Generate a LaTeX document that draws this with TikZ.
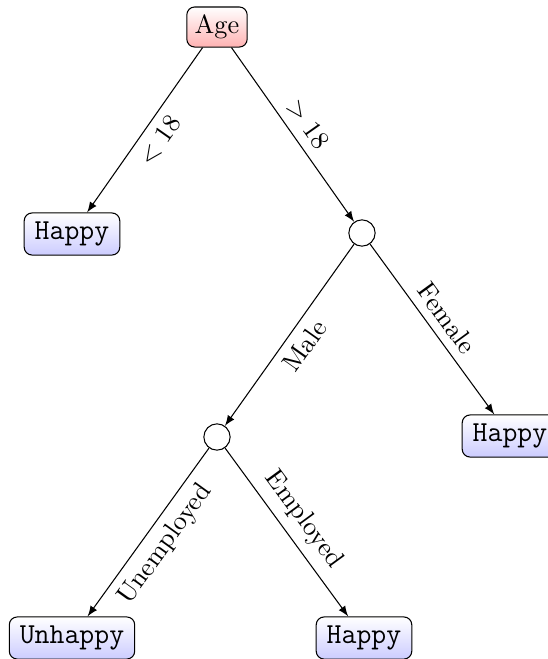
\documentclass[tikz,border=0pt]{standalone}
\usepackage{xcolor}
\usepackage{amsmath, amssymb}
\usepackage{tikz}
\usetikzlibrary{shapes, arrows, positioning, calc}

\begin{document}
\begin{tikzpicture}[
        x=0.38pt, y=-0.38pt,
        box/.style={rectangle, rounded corners=3pt, draw=black, inner sep=3pt},
        root/.style={box, top color=white, bottom color=red!30},
        leaf/.style={box, top color=white, bottom color=blue!20, font=\ttfamily\fontsize{11}{13}\selectfont, inner xsep=4pt, minimum height=16pt},
        split/.style={circle, draw=black, fill=white, minimum size=10pt},
        edge/.style={-latex},
        lleft/.style={below, sloped, midway},
        lright/.style={above, sloped, midway}
    ]
    \useasboundingbox (0,0) rectangle (548,659);

    % Root question
    \node[root] (Age) at (217,27) {Age};
    \node[leaf] (Minor) at (72,234) {Happy};
    \node[split] (Adult) at (362,233) {};

    \draw[edge] (Age) -- node[lleft] {$<18$} (Minor);
    \draw[edge] (Age) -- node[lright] {$>18$} (Adult);

    % Adults split on gender
    \node[split] (Male) at (217,437) {};
    \node[leaf] (Female) at (510,436) {Happy};

    \draw[edge] (Adult) -- node[lleft] {Male} (Male);
    \draw[edge] (Adult) -- node[lright] {Female} (Female);

    % Males split on job
    \node[leaf] (Jobless) at (72,638) {Unhappy};
    \node[leaf] (Working) at (364,638) {Happy};

    \draw[edge] (Male) -- node[lleft] {Unemployed} (Jobless);
    \draw[edge] (Male) -- node[lright] {Employed} (Working);

\end{tikzpicture}
\end{document}
